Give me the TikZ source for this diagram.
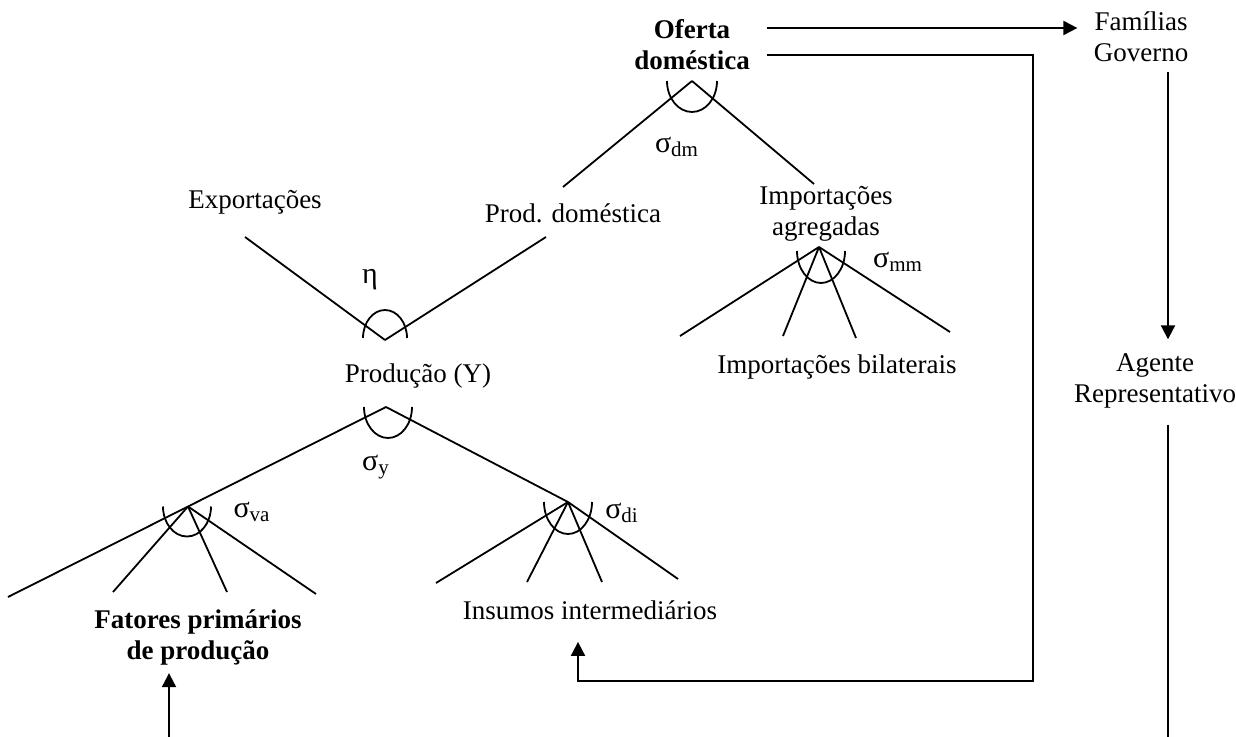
\documentclass[tikz,border=0pt]{standalone}
\usepackage{fontspec}
\setmainfont{Liberation Serif}
\usetikzlibrary{arrows.meta}

\begin{document}
\begin{tikzpicture}[x=0.5pt, y=-0.5pt,
        lbl/.style={inner sep=1pt, align=center, font=\fontsize{13.5}{15.5}\selectfont},
        boldlbl/.style={lbl, font=\fontsize{13.5}{15.5}\selectfont\bfseries},
        branch/.style={line width=0.9pt},
        nest/.style={line width=0.9pt},
        flow/.style={line width=1pt, -{Triangle[length=7pt,width=7pt]}}]
    \useasboundingbox (0,0) rectangle (1236,737);

                %%labels
                \node[boldlbl] (oferta) at (692,45) {Oferta\\doméstica};
                \node[lbl] (fam) at (1141,37) {Famílias\\Governo};
                \node[lbl] (agente) at (1155,381) {Agente\\Representativo};
                \node[lbl] (export) at (255,202) {Exportações};
                \node[lbl] (proddom) at (573,213) {Prod. doméstica};
                \node[lbl] (impagg) at (826,214) {Importações\\agregadas};
                \node[lbl] (impbil) at (837,367) {Importações bilaterais};
                \node[lbl] (prod) at (418,376) {Produção (Y)};
                \node[boldlbl] (fatores) at (198,637) {Fatores primários\\de produção};
                \node[lbl] (insumos) at (590,610) {Insumos intermediários};

                %%elasticities
                \node[lbl] (sdm) at (677,147) {\fontsize{15}{15}\selectfont σ\textsubscript{dm}};
                \node[lbl] (seta) at (370,280) {\fontsize{15}{15}\selectfont η};
                \node[lbl] (smm) at (898,262) {\fontsize{15}{15}\selectfont σ\textsubscript{mm}};
                \node[lbl] (sy) at (376,467) {\fontsize{15}{15}\selectfont σ\textsubscript{y}};
                \node[lbl] (sva) at (252,512) {\fontsize{15}{15}\selectfont σ\textsubscript{va}};
                \node[lbl] (sdi) at (622,513) {\fontsize{15}{15}\selectfont σ\textsubscript{di}};

                %%top nest
                \coordinate (apdm) at (692,81);
                \draw[branch](apdm) to (563,187);
                \draw[branch](apdm) to (814,184);
                \draw[nest]([xshift=-12.5pt]apdm) arc[start angle=180, end angle=360, x radius=12.5pt, y radius=15.5pt];

                %%export nest
                \coordinate (apeta) at (385,340);
                \draw[branch](245,237) to (apeta);
                \draw[branch](apeta) to (546,237);
                \draw[nest]([xshift=-11pt,yshift=1pt]apeta) arc[start angle=180, end angle=0, x radius=11pt, y radius=14pt];

                %%import nest
                \coordinate (apmm) at (819,247);
                    \draw[branch](apmm) to (680,336);
                    \draw[branch](apmm) to (783,336);
                    \draw[branch](apmm) to (856,338);
                    \draw[branch](apmm) to (950,332);
                \draw[nest]([xshift=-11pt,yshift=-2pt]apmm) arc[start angle=180, end angle=360, x radius=12pt, y radius=16pt];

                %%production nest
                \coordinate (apy) at (386,407);
                \coordinate (apva) at (188,506.5);
                \coordinate (apdi) at (568,502);
                \draw[branch](8,597) to (apy);
                \draw[branch](apy) to (apdi);
                \draw[nest]([xshift=-11pt]apy) arc[start angle=180, end angle=360, x radius=12pt, y radius=15.5pt];

                    %%value added
                    \draw[branch](apva) to (113,592);
                    \draw[branch](apva) to (227,592);
                    \draw[branch](apva) to (316,594);
                    \draw[nest]([xshift=-12.5pt]apva) arc[start angle=180, end angle=360, x radius=12pt, y radius=15pt];

                    %%intermediate inputs
                    \draw[branch](apdi) to (436,583);
                    \draw[branch](apdi) to (527,582);
                    \draw[branch](apdi) to (602,582);
                    \draw[branch](apdi) to (678,579);
                    \draw[nest]([xshift=-12pt]apdi) arc[start angle=180, end angle=360, x radius=12pt, y radius=16pt];

                %%flows
                \coordinate (ofa) at (767,28);
                \coordinate (ofb) at (767,55);
                \coordinate (loopc) at (1033,681);
                \coordinate (famdn) at (1168,72);
                \coordinate (fatin) at (169,737);
                \draw[flow, shorten >=7pt](ofa) to (ofa -| fam.west);
                \draw[flow](ofb) -| (loopc) -| ([xshift=-6pt,yshift=-10pt]insumos.south);
                \draw[flow, shorten >=6pt](famdn) to (famdn |- agente.north);
                \draw[line width=1pt]([yshift=-7pt]agente.south -| famdn) to (famdn |- 0,737);
                \draw[flow, shorten >=3pt](fatin) to (fatin |- fatores.south);
\end{tikzpicture}
\end{document}
